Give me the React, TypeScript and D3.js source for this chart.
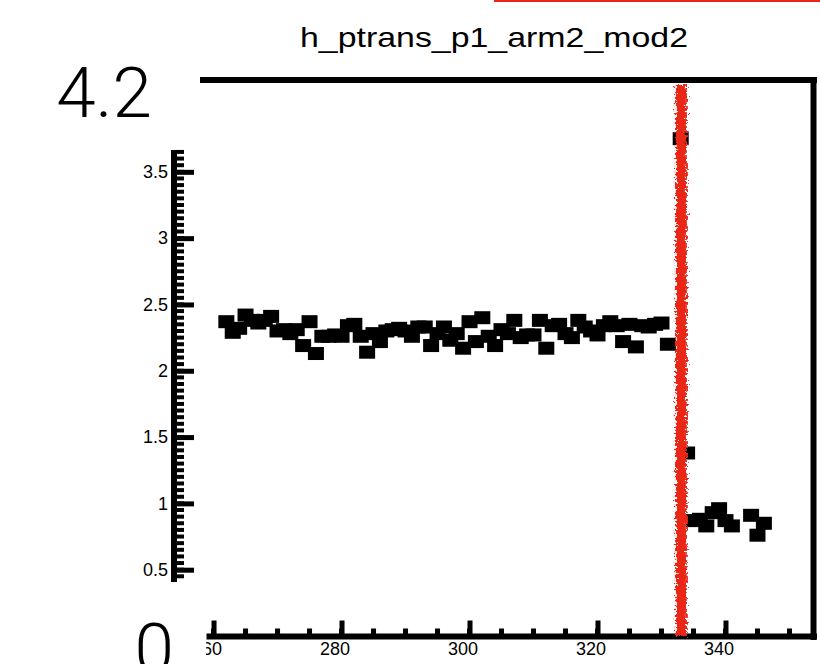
import React, { useEffect, useRef } from "react";
import * as d3 from "d3";

const title = "h_ptrans_p1_arm2_mod2";
const bins = [
  262, 263, 264, 265, 266, 267, 268, 269, 270, 271, 272, 273, 274, 275, 276, 277, 278, 279,
  280, 281, 282, 283, 284, 285, 286, 287, 288, 289, 290, 291, 292, 293, 294, 295, 296, 297,
  298, 299, 300, 301, 302, 303, 304, 305, 306, 307, 308, 309, 310, 311, 312, 313, 314, 315,
  316, 317, 318, 319, 320, 321, 322, 323, 324, 325, 326, 327, 328, 329, 330, 331, 333, 334,
  335, 336, 337, 338, 339, 340, 341, 344, 345, 346,
];
const values = [
  2.37, 2.29, 2.32, 2.42, 2.38, 2.36, 2.38, 2.41, 2.3, 2.31, 2.28, 2.31, 2.19, 2.37, 2.13, 2.26, 2.26, 2.27,
  2.26, 2.34, 2.35, 2.26, 2.14, 2.28, 2.22, 2.3, 2.31, 2.32, 2.3, 2.26, 2.33, 2.33, 2.19, 2.28, 2.33, 2.23,
  2.28, 2.17, 2.37, 2.22, 2.4, 2.26, 2.19, 2.31, 2.28, 2.38, 2.25, 2.27, 2.27, 2.38, 2.17, 2.34, 2.35, 2.28,
  2.25, 2.38, 2.33, 2.3, 2.27, 2.34, 2.37, 2.34, 2.22, 2.35, 2.18, 2.34, 2.33, 2.35, 2.36, 2.2, 3.75, 1.38,
  0.87, 0.88, 0.83, 0.93, 0.96, 0.87, 0.83, 0.91, 0.76, 0.85,
];
const xMajorTicks = [260, 280, 300, 320, 340];
const yMajorTicks = [0.5, 1, 1.5, 2, 2.5, 3, 3.5];
const yRangeLabels = ["4.2", "0"];
const cutValue = 333.1;

const W = 820;
const H = 664;
const FONT = "Liberation Sans, Arial, Helvetica, sans-serif";

export default function App() {
  const axRef = useRef<SVGGElement>(null);
  const x = d3.scaleLinear().domain([258.9, 354.3]).range([206.5, 817]);
  const y = d3.scaleLinear().domain([0, 4.2]).range([636, 79]);

  useEffect(() => {
    const g = d3.select(axRef.current);
    g.selectAll("*").remove();
    // y axis
    const yAx = g.append("g").attr("transform", "translate(174,0)");
    const yMinor = d3.range(0.45, 3.66, 0.05);
    yAx.selectAll("line.minor").data(yMinor).join("line")
      .attr("x1", 0).attr("x2", 10).attr("y1", (d) => y(d)).attr("y2", (d) => y(d))
      .attr("stroke", "#000").attr("stroke-width", 4);
    const axisY = d3.axisLeft(y).tickValues(yMajorTicks).tickSize(-20).tickPadding(6)
      .tickFormat((d) => String(d));
    yAx.call(axisY);
    yAx.select(".domain").remove();
    yAx.selectAll(".tick line").attr("stroke-width", 5);
    yAx.selectAll(".tick text").attr("font-size", 18).attr("font-family", FONT).attr("fill", "#000");
    yAx.append("line").attr("x1", 0).attr("x2", 0).attr("y1", 150).attr("y2", 582)
      .attr("stroke", "#000").attr("stroke-width", 6);

    // x axis
    const xAx = g.append("g").attr("transform", "translate(0,636.5)");
    const xMinor = d3.range(260, 355, 5);
    xAx.selectAll("line.minor").data(xMinor).join("line")
      .attr("x1", (d) => x(d)).attr("x2", (d) => x(d)).attr("y1", 0).attr("y2", -8)
      .attr("stroke", "#000").attr("stroke-width", 5);
    const axisX = d3.axisBottom(x).tickValues(xMajorTicks).tickSize(-16).tickPadding(6)
      .tickFormat((d) => String(d));
    xAx.call(axisX);
    xAx.select(".domain").remove();
    xAx.selectAll(".tick line").attr("stroke-width", 5);
    xAx.selectAll(".tick text").attr("font-size", 18).attr("font-family", FONT)
      .attr("fill", "#000").attr("dx", -7);
    xAx.attr("clip-path", "url(#xclip)");
    xAx.append("line").attr("x1", 206.5).attr("x2", 817).attr("y1", 0).attr("y2", 0)
      .attr("stroke", "#000").attr("stroke-width", 6);
  }, []);

  const cx = x(cutValue);

  return (
    <svg width={W} height={H} style={{ position: "absolute", left: 0, top: 0, background: "#fff" }}>
      <defs>
        <clipPath id="xclip">
          <rect x={206} y={-30} width={620} height={60} />
        </clipPath>
        <filter id="rough" x="-80%" y="-5%" width="260%" height="110%">
          <feTurbulence type="fractalNoise" baseFrequency="0.45" numOctaves="2" seed="3" result="noise" />
          <feDisplacementMap in="SourceGraphic" in2="noise" scale="9" xChannelSelector="R" yChannelSelector="G" />
        </filter>
      </defs>
      <rect x={0} y={0} width={W} height={H} fill="#fff" />
      <rect x={494} y={0} width={326} height={2} fill="#e8261a" />
      <text x={300} y={47} fontSize={28} textLength={388} lengthAdjust="spacingAndGlyphs" fontFamily={FONT} fill="#000">
        {title}
      </text>
      <text x={152} y={117} textAnchor="end" fontSize={71} fontWeight={300} fontFamily="Roboto, Liberation Sans, sans-serif" fill="#000">
        {yRangeLabels[0]}
      </text>
      <text x={174} y={673} textAnchor="end" fontSize={71} fontWeight={300} fontFamily="Roboto, Liberation Sans, sans-serif" fill="#000">
        {yRangeLabels[1]}
      </text>
      {/* frame */}
      <line x1={200} x2={817} y1={80} y2={80} stroke="#000" strokeWidth={6} />
      <line x1={813.5} x2={813.5} y1={77} y2={640} stroke="#000" strokeWidth={6} />
      {/* markers */}
      <g>
        {bins.map((b, i) => (
          <rect key={b} x={x(b) - 8} y={y(values[i]) - 6.5} width={16} height={13} fill="#000" />
        ))}
      </g>
      <g ref={axRef} />
      {/* red cut line */}
      <rect x={cx - 5.5} y={85} width={11} height={551} fill="#ea2618" filter="url(#rough)" />
    </svg>
  );
}
